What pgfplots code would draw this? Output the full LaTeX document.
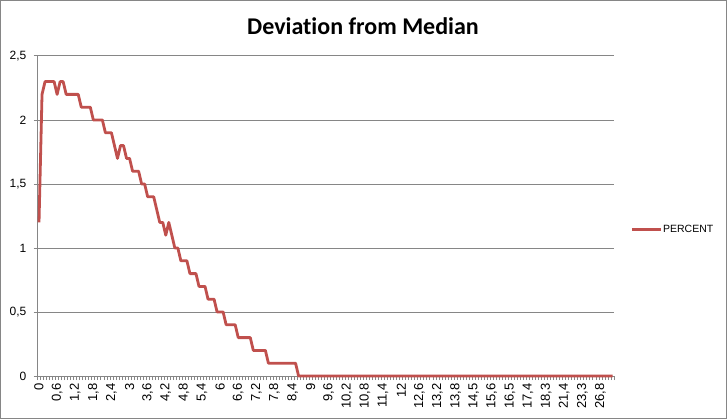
\documentclass[border=0pt]{standalone}
\usepackage{pgfplots}
\pgfplotsset{compat=1.18}
\usepackage{fontspec}
\setmainfont{Liberation Sans}
\newfontfamily\titlefont[Ligatures={NoCommon}]{Carlito}
\definecolor{gridgray}{HTML}{868686}
\definecolor{linered}{HTML}{C0504D}
\begin{document}
\begin{tikzpicture}[x=1bp,y=1bp]
\useasboundingbox (0,0) rectangle (727,419);
\draw[gridgray,line width=1bp] (0.5,0.5) rectangle (726.5,418.5);
\node[font=\titlefont\bfseries\fontsize{24bp}{28bp}\selectfont,anchor=base] at (363,385) {Deviation from Median};
\begin{axis}[
  at={(37.5bp,43bp)}, anchor=south west,
  scale only axis, width=576.5bp, height=320bp,
  xmin=-0.5, xmax=190.5, ymin=0, ymax=2.5,
  axis x line*=bottom, axis y line*=left,
  axis line style={draw=gridgray, line width=1bp, -},
  ymajorgrids, major grid style={draw=gridgray, line width=1bp},
  ytick={0,0.5,1,1.5,2,2.5},
  yticklabels={0,{0,5},1,{1,5},2,{2,5}},
  xtick={0,6,...,186},
  xticklabels={0,{0,6},{1,2},{1,8},{2,4},3,{3,6},{4,2},{4,8},{5,4},6,{6,6},{7,2},{7,8},{8,4},9,{9,6},{10,2},{10,8},{11,4},12,{12,6},{13,2},{13,8},{14,5},{15,6},{16,5},{17,4},{18,3},{21,4},{23,3},{26,8}},
  minor xtick={-0.5,0.5,...,190.5},
  tick align=outside,
  x tick style={draw=none},
  minor x tick style={draw=gridgray, line width=0.8bp},
  minor tick length=4bp,
  y tick style={draw=gridgray, line width=1bp},
  major tick length=4bp,
  xticklabel style={font=\fontsize{13bp}{15bp}\selectfont, text=black, rotate=90, anchor=east, inner sep=0pt, xshift=-3bp},
  yticklabel style={font=\fontsize{12bp}{14bp}\selectfont, text=black, anchor=east, inner sep=0pt, xshift=-7bp},
  legend style={at={(1.028,0.459)}, anchor=west, draw=none, fill=none, inner sep=0pt,
    font=\fontsize{10.5bp}{12bp}\selectfont, nodes={inner sep=1bp}},
  legend image code/.code={\draw[#1] (0bp,0bp) -- (29bp,0bp);},
  clip=false,
]
\addplot[linered, line width=2.8bp, line join=round] coordinates {
(0,1.2)(1,2.2)(2,2.3)(3,2.3)(4,2.3)(5,2.3)(6,2.2)(7,2.3)(8,2.3)(9,2.2)
(10,2.2)(11,2.2)(12,2.2)(13,2.2)(14,2.1)(15,2.1)(16,2.1)(17,2.1)(18,2.0)(19,2.0)
(20,2.0)(21,2.0)(22,1.9)(23,1.9)(24,1.9)(25,1.8)(26,1.7)(27,1.8)(28,1.8)(29,1.7)
(30,1.7)(31,1.6)(32,1.6)(33,1.6)(34,1.5)(35,1.5)(36,1.4)(37,1.4)(38,1.4)(39,1.3)
(40,1.2)(41,1.2)(42,1.1)(43,1.2)(44,1.1)(45,1.0)(46,1.0)(47,0.9)(48,0.9)(49,0.9)
(50,0.8)(51,0.8)(52,0.8)(53,0.7)(54,0.7)(55,0.7)(56,0.6)(57,0.6)(58,0.6)(59,0.5)
(60,0.5)(61,0.5)(62,0.4)(63,0.4)(64,0.4)(65,0.4)(66,0.3)(67,0.3)(68,0.3)(69,0.3)
(70,0.3)(71,0.2)(72,0.2)(73,0.2)(74,0.2)(75,0.2)(76,0.1)(77,0.1)(78,0.1)(79,0.1)
(80,0.1)(81,0.1)(82,0.1)(83,0.1)(84,0.1)(85,0.1)(86,0)(87,0)(88,0)(89,0)
(90,0)(91,0)(92,0)(93,0)(94,0)(95,0)(96,0)(97,0)(98,0)(99,0)
(100,0)(101,0)(102,0)(103,0)(104,0)(105,0)(106,0)(107,0)(108,0)(109,0)
(110,0)(111,0)(112,0)(113,0)(114,0)(115,0)(116,0)(117,0)(118,0)(119,0)
(120,0)(121,0)(122,0)(123,0)(124,0)(125,0)(126,0)(127,0)(128,0)(129,0)
(130,0)(131,0)(132,0)(133,0)(134,0)(135,0)(136,0)(137,0)(138,0)(139,0)
(140,0)(141,0)(142,0)(143,0)(144,0)(145,0)(146,0)(147,0)(148,0)(149,0)
(150,0)(151,0)(152,0)(153,0)(154,0)(155,0)(156,0)(157,0)(158,0)(159,0)
(160,0)(161,0)(162,0)(163,0)(164,0)(165,0)(166,0)(167,0)(168,0)(169,0)
(170,0)(171,0)(172,0)(173,0)(174,0)(175,0)(176,0)(177,0)(178,0)(179,0)
(180,0)(181,0)(182,0)(183,0)(184,0)(185,0)(186,0)(187,0)(188,0)(189,0)
(190,0)
};
\addlegendentry{PERCENT}
\end{axis}
\end{tikzpicture}
\end{document}
